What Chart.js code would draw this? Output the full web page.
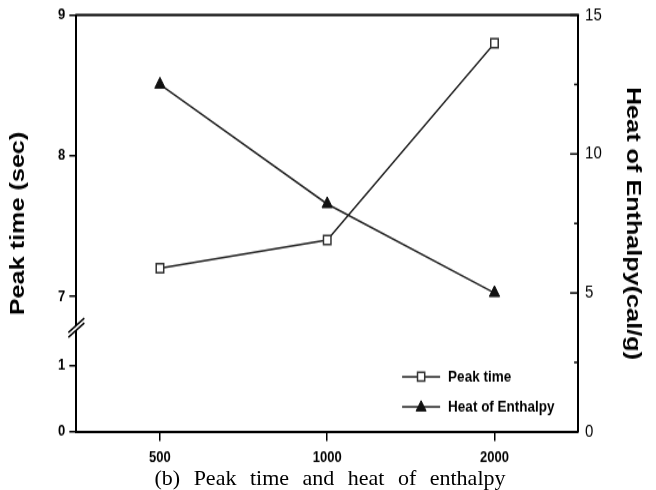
<!DOCTYPE html>
<html>
<head>
<meta charset="utf-8">
<script src="https://cdn.jsdelivr.net/npm/chart.js@4.4.1/dist/chart.umd.min.js"></script>
<style>
  html, body { margin: 0; padding: 0; background: #fff; }
  #wrap { position: relative; width: 656px; height: 490px; overflow: hidden; }
  /* the figure in the reference is stretched vertically */
  #chart { position: absolute; left: 0; top: 0; transform: scaleY(1.2); transform-origin: 0 0; }
  #caption { position: absolute; left: 2px; top: 465px; width: 656px; text-align: center;
             font: 22px "Liberation Serif", "Times New Roman", serif; word-spacing: 8px;
             line-height: 26px; color: #000; }
</style>
</head>
<body>
<div id="wrap">
  <canvas id="chart" width="656" height="395"></canvas>
  <div id="caption">(b) Peak time and heat of enthalpy</div>
</div>
<script>
const sizes = ['500', '1000', '2000'];
const peakTime = [7.2, 7.4, 8.8];
const heatOfEnthalpy = [12.5, 8.2, 5.0];
const peakTicks = [0, 1, 7, 8, 9];

// left axis with a break between 1 and 7: [value, fraction of axis height]
const peakAxisStops = [[0, 0], [1, 0.159], [7, 0.325], [9, 1]];

class BrokenScale extends Chart.LinearScale {
  buildTicks() {
    return this.options.tickValues.map(v => ({ value: v }));
  }
  toDecimal(v) {
    const s = this.options.stops;
    if (v <= s[0][0]) return s[0][1];
    for (let i = 1; i < s.length; i++) {
      if (v <= s[i][0]) {
        const [v0, f0] = s[i - 1];
        const [v1, f1] = s[i];
        return f0 + (v - v0) / (v1 - v0) * (f1 - f0);
      }
    }
    return s[s.length - 1][1];
  }
  getPixelForValue(v) {
    return this.getPixelForDecimal(this.toDecimal(v));
  }
  getValueForPixel(p) {
    const d = this.getDecimalForPixel(p);
    const s = this.options.stops;
    for (let i = 1; i < s.length; i++) {
      if (d <= s[i][1]) {
        const [v0, f0] = s[i - 1];
        const [v1, f1] = s[i];
        return v0 + (d - f0) / (f1 - f0) * (v1 - v0);
      }
    }
    return s[s.length - 1][0];
  }
}
BrokenScale.id = 'broken';
BrokenScale.defaults = {};
Chart.register(BrokenScale);

Chart.defaults.font.family = '"Liberation Sans", Arial, sans-serif';
Chart.defaults.color = '#000';

// let the top label hang over the frame instead of pushing the plot down
const noTopPad = scale => { scale.paddingTop = 0; };

// frame top, inward ticks on the right axis, axis break, legend
const extras = {
  id: 'extras',
  afterDraw(chart) {
    const { ctx, chartArea: a, scales } = chart;
    ctx.save();
    ctx.strokeStyle = '#000';
    ctx.lineWidth = 2;
    ctx.beginPath();
    ctx.moveTo(a.left - 1, a.top);
    ctx.lineTo(a.right + 1, a.top);
    ctx.stroke();

    const r = scales.y1;
    ctx.lineWidth = 1.5;
    r.ticks.forEach((t, i) => {
      const y = r.getPixelForValue(t.value);
      ctx.beginPath();
      ctx.moveTo(a.right, y);
      ctx.lineTo(a.right - 8, y);
      ctx.stroke();
      if (i > 0) {
        const ym = r.getPixelForValue((t.value + r.ticks[i - 1].value) / 2);
        ctx.beginPath();
        ctx.moveTo(a.right, ym);
        ctx.lineTo(a.right - 4, ym);
        ctx.stroke();
      }
    });

    // axis break
    const yb = scales.y.getPixelForDecimal(scales.y.options.breakAt);
    ctx.fillStyle = '#fff';
    ctx.fillRect(a.left - 2, yb - 2, 4, 4);
    ctx.lineWidth = 1.5;
    for (const s of [-2, 2]) {
      ctx.beginPath();
      ctx.moveTo(a.left - 8, yb + s + 6);
      ctx.lineTo(a.left + 8, yb + s - 6);
      ctx.stroke();
    }

    // legend
    ctx.font = 'bold 13.5px "Liberation Sans", Arial, sans-serif';
    ctx.textBaseline = 'middle';
    ctx.textAlign = 'left';
    chart.data.datasets.forEach((ds, i) => {
      const y = a.bottom - 46 + i * 25;
      const x0 = a.right - 176;
      const xm = x0 + 19;
      ctx.strokeStyle = ds.borderColor;
      ctx.lineWidth = ds.borderWidth;
      ctx.beginPath();
      ctx.moveTo(x0, y);
      ctx.lineTo(x0 + 38, y);
      ctx.stroke();
      ctx.fillStyle = ds.pointBackgroundColor;
      ctx.strokeStyle = ds.pointBorderColor;
      ctx.lineWidth = ds.pointBorderWidth;
      ctx.beginPath();
      if (ds.pointStyle === 'rect') {
        ctx.rect(xm - 3.6, y - 3.6, 7.2, 7.2);
      } else {
        ctx.moveTo(xm, y - 5);
        ctx.lineTo(xm + 5, y + 3.5);
        ctx.lineTo(xm - 5, y + 3.5);
        ctx.closePath();
      }
      ctx.fill();
      ctx.stroke();
      ctx.fillStyle = '#000';
      ctx.fillText(ds.label, x0 + 46, y + 0.5);
    });
    ctx.restore();
  }
};

new Chart(document.getElementById('chart'), {
  type: 'line',
  data: {
    labels: sizes,
    datasets: [
      {
        label: 'Peak time',
        data: peakTime,
        yAxisID: 'y',
        borderColor: '#222',
        borderWidth: 1.5,
        pointStyle: 'rect',
        pointRadius: 5.3,
        pointBackgroundColor: '#fff',
        pointBorderColor: '#333',
        pointBorderWidth: 1.5,
        tension: 0
      },
      {
        label: 'Heat of Enthalpy',
        data: heatOfEnthalpy,
        yAxisID: 'y1',
        borderColor: '#222',
        borderWidth: 1.5,
        pointStyle: 'triangle',
        pointRadius: 6,
        pointBackgroundColor: '#111',
        pointBorderColor: '#111',
        pointBorderWidth: 1,
        tension: 0
      }
    ]
  },
  options: {
    responsive: false,
    animation: false,
    layout: { padding: { top: 12.5, left: 0, right: 0, bottom: 0 } },
    plugins: { legend: { display: false }, tooltip: { enabled: false } },
    scales: {
      x: {
        type: 'category',
        offset: true,
        grid: { display: true, drawOnChartArea: false, drawTicks: true, tickLength: 7.5, color: '#000', lineWidth: 1.5 },
        border: { display: true, color: '#000', width: 2 },
        ticks: { font: { size: 13, weight: 'bold' }, padding: 6, maxRotation: 0 }
      },
      y: {
        type: 'broken',
        position: 'left',
        min: 0,
        max: 9,
        tickValues: peakTicks,
        stops: peakAxisStops,
        breakAt: 0.25,
        afterFit: noTopPad,
        grid: { display: true, drawOnChartArea: false, drawTicks: true, tickLength: 7, color: '#000', lineWidth: 1.5 },
        border: { display: true, color: '#000', width: 2 },
        ticks: { font: { size: 13, weight: 'bold' }, padding: 4, callback: v => String(v) },
        title: { display: true, text: 'Peak time (sec)', font: { size: 21, weight: 'bold' }, padding: { top: 5.4, bottom: 23.5 } }
      },
      y1: {
        type: 'linear',
        position: 'right',
        min: 0,
        max: 15,
        afterFit: noTopPad,
        grid: { display: false, drawTicks: false },
        border: { display: true, color: '#000', width: 2 },
        ticks: { stepSize: 5, font: { size: 15 }, padding: 7 },
        title: { display: true, text: 'Heat of Enthalpy(cal/g)', font: { size: 21, weight: 'bold' }, padding: { top: 11, bottom: 11 } }
      }
    }
  },
  plugins: [extras]
});
</script>
</body>
</html>
